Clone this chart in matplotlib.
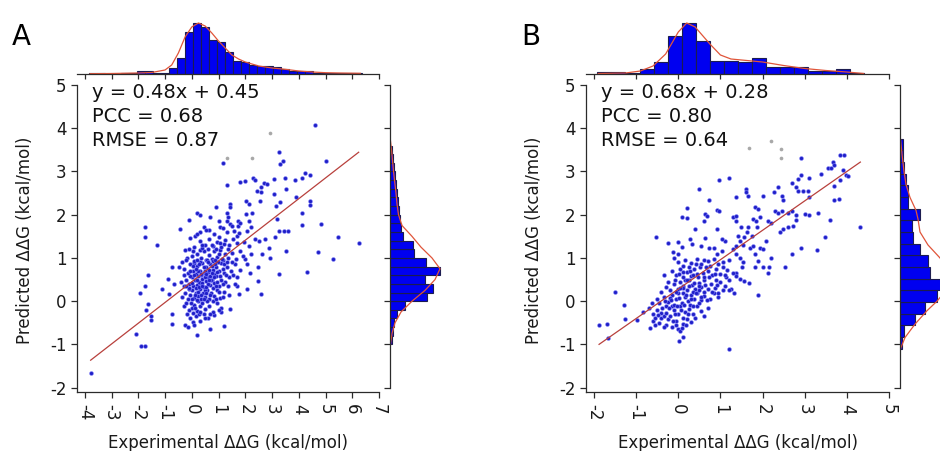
import numpy as np
import matplotlib
matplotlib.use("Agg")
import matplotlib.pyplot as plt

plt.rcParams['axes.unicode_minus'] = False
plt.rcParams['font.family'] = 'DejaVu Sans'

W, H = 940, 451

# ---------------- panel A data ----------------
a_stats = ["y = 0.48x + 0.45", "PCC = 0.68", "RMSE = 0.87"]
a_fit = (0.48, 0.45)
a_xticks = list(range(-4, 8))
a_xlim = (-4.29, 7.0)

a_points = [
    (-3.78, -1.65), (-2.1, -0.76), (-1.91, -1.03), (-1.73, -1.03), (-1.73, 1.72), (-1.76, 1.49),
    (-1.3, 1.30), (-1.63, 0.61), (-1.92, 0.19), (-1.73, 0.34), (-1.63, -0.07), (-1.71, -0.2),
    (-1.54, -0.34), (-1.52, -0.44), (-1.11, 0.28), (-0.86, 0.16), (-0.88, 0.51), (-0.73, 0.80),
    (-0.73, -0.30), (-0.73, -0.52), (-0.67, 0.39), (-0.45, 1.67), (-0.11, 1.88), (0.2, 2.05),
    (0.29, 1.99), (0.9, 2.19), (1.17, 3.2), (1.32, 2.69), (1.32, 2.05), (1.36, 1.94), (1.79, 2.76),
    (2.0, 2.79), (2.04, 2.32), (2.13, 2.25), (2.28, 2.85), (2.38, 2.8), (2.44, 2.56), (2.59, 2.63),
    (2.57, 2.52), (2.54, 2.32), (2.69, 2.73), (2.81, 2.71), (3.06, 2.83), (3.25, 3.46), (3.29, 3.17),
    (3.41, 3.24), (3.09, 2.49), (3.16, 2.21), (3.29, 2.3), (3.5, 2.86), (3.54, 2.59), (3.87, 2.8),
    (4.12, 2.85), (4.25, 2.97), (4.41, 2.93), (3.91, 2.4), (4.41, 2.31), (4.41, 2.23), (4.62, 4.08),
    (5.03, 3.25), (4.12, 2.05), (4.12, 1.77), (4.84, 1.78), (5.47, 1.49), (6.24, 1.34), (4.72, 1.13),
    (5.28, 0.97), (4.31, 0.68), (3.26, 0.64), (3.54, 1.17), (3.19, 1.9), (3.25, 1.63), (3.44, 1.63),
    (3.59, 1.63), (3.13, 1.49), (2.87, 1.24), (2.94, 1.0), (2.75, 1.44), (2.63, 1.1), (2.46, 0.78),
    (2.46, 0.47), (2.57, 0.16), (2.07, 0.29), (2.38, 1.44), (2.5, 1.4), (2.13, 1.86), (2.2, 1.71),
    (2.07, 1.63), (2.26, 2.03), (2.04, 2.02), (1.72, 1.86), (1.72, 1.75), (1.82, 1.82), (1.57, 1.63),
    (1.69, 1.51), (1.94, 1.36), (2.13, 1.28), (1.82, 1.17), (2.2, 1.09), (2.0, 0.97), (2.07, 0.86),
    (2.17, 0.66), (1.69, 0.36), (1.76, 0.16), (1.44, -0.19), (1.2, -0.57), (1.11, -0.24), (0.67, -0.65),
    (0.2, -0.78), (1.44, 2.25), (1.44, 2.17), (1.32, 1.86), (1.44, 1.78), (1.07, 1.71), (1.01, 1.86),
    (0.7, 1.94), (0.45, 1.72), (0.64, 1.64), (0.32, 1.59), (0.14, 1.51), (-0.05, 1.46), (-0.26, 1.18),
    (-0.17, 1.01), (-0.36, 0.9), (-0.49, 0.78),
    # dense centre
    (-0.25, -0.55), (-0.15, -0.6), (0.05, -0.48), (0.15, -0.35), (0.3, -0.45), (0.45, -0.3),
    (-0.05, -0.38), (0.6, -0.4), (0.1, -0.55), (0.85, -0.32),
    (-0.3, -0.1), (-0.2, -0.05), (-0.1, -0.2), (0.0, -0.15), (0.1, -0.08), (0.2, -0.22), (0.3, -0.12),
    (0.4, -0.05), (0.5, -0.18), (0.65, -0.1), (0.8, -0.25), (0.95, -0.05), (0.05, -0.28), (0.25, 0.0),
    (1.1, -0.15),
    (-0.35, 0.1), (-0.25, 0.2), (-0.15, 0.05), (-0.05, 0.15), (0.0, 0.25), (0.08, 0.08), (0.15, 0.2),
    (0.22, 0.12), (0.3, 0.28), (0.35, 0.05), (0.42, 0.18), (0.5, 0.1), (0.58, 0.25), (0.65, 0.05),
    (0.72, 0.2), (0.85, 0.12), (0.95, 0.25), (1.05, 0.08), (1.2, 0.22), (1.4, 0.15), (0.18, 0.02),
    (0.48, 0.27), (-0.1, 0.28), (0.78, 0.0),
    (-0.4, 0.45), (-0.3, 0.35), (-0.2, 0.5), (-0.1, 0.4), (0.0, 0.55), (0.05, 0.35), (0.12, 0.48),
    (0.2, 0.38), (0.25, 0.58), (0.32, 0.42), (0.38, 0.52), (0.45, 0.33), (0.52, 0.47), (0.6, 0.56),
    (0.68, 0.38), (0.75, 0.5), (0.82, 0.42), (0.9, 0.58), (1.0, 0.35), (1.1, 0.5), (1.25, 0.45),
    (1.4, 0.55), (1.6, 0.4), (0.15, 0.3), (0.55, 0.32), (0.95, 0.45), (1.7, 0.55), (-0.05, 0.58),
    (0.28, 0.45), (0.7, 0.58),
    (-0.3, 0.75), (-0.15, 0.65), (-0.05, 0.85), (0.05, 0.7), (0.15, 0.62), (0.2, 0.82), (0.3, 0.7),
    (0.4, 0.88), (0.45, 0.65), (0.55, 0.78), (0.62, 0.68), (0.7, 0.85), (0.78, 0.72), (0.85, 0.62),
    (0.92, 0.8), (1.0, 0.7), (1.1, 0.88), (1.2, 0.65), (1.3, 0.78), (1.45, 0.7), (1.6, 0.85),
    (1.8, 0.72), (0.35, 0.6), (0.98, 0.9), (0.1, 0.88), (1.15, 0.75), (0.5, 0.7),
    (-0.2, 0.95), (0.0, 1.05), (0.1, 0.92), (0.2, 1.1), (0.35, 1.0), (0.45, 1.15), (0.55, 0.95),
    (0.65, 1.08), (0.75, 0.98), (0.85, 1.15), (0.95, 1.02), (1.05, 1.18), (1.15, 0.95), (1.25, 1.1),
    (1.35, 1.0), (1.5, 1.12), (1.65, 0.98), (1.9, 1.05), (0.3, 1.18), (0.8, 0.92), (1.0, 1.1),
    (0.1, 1.25), (0.3, 1.4), (0.5, 1.3), (0.65, 1.45), (0.8, 1.28), (0.95, 1.38), (1.1, 1.25),
    (1.25, 1.42), (1.4, 1.3), (1.55, 1.45), (1.7, 1.35), (0.4, 1.22), (1.0, 1.48), (1.2, 1.32),
    (0.2, 1.55), (0.55, 1.65), (0.85, 1.55), (1.15, 1.7), (1.3, 1.6), (1.5, 1.75), (1.75, 1.58),
    (0.02, 0.42), (0.08, 0.6), (0.12, 0.15), (0.18, 0.5), (0.22, 0.7), (0.26, 0.32), (0.32, 0.9),
    (0.36, 0.15), (0.4, 0.42), (0.44, 0.78), (0.48, 0.55), (0.52, 0.2), (0.56, 0.95), (0.6, 0.4),
    (0.64, 0.72), (0.68, 0.15), (0.72, 0.48), (0.76, 0.82), (0.8, 0.3), (0.84, 0.55), (0.88, 0.95),
    (0.92, 0.35), (0.96, 0.68), (1.02, 0.22), (1.06, 0.58), (1.12, 0.98), (1.18, 0.4), (1.22, 0.85),
    (1.28, 0.6), (1.34, 1.2), (0.0, 0.05), (-0.08, 0.7), (-0.12, 0.3), (-0.18, -0.3), (-0.02, -0.05),
    (0.14, -0.15), (0.26, -0.3), (0.38, 0.35), (0.58, 0.0), (0.7, -0.3), (0.9, 0.05), (1.0, -0.2),
    (0.2, 0.95), (0.4, 1.3), (0.6, 1.2), (0.75, 1.3), (0.9, 1.2), (1.05, 1.35), (1.3, 0.9),
    (1.5, 0.9), (1.55, 0.6), (1.35, 0.35), (1.15, 0.1), (-0.22, 0.35), (-0.28, 0.6), (0.32, -0.25),
    (0.48, -0.4), (0.62, 0.9), (0.05, 1.15), (-0.1, 1.2), (0.24, 0.22), (0.34, 0.62), (0.46, 0.05),
    (0.54, 0.62), (0.66, 0.5), (0.74, 0.65), (0.86, 0.85), (0.04, 0.82), (0.16, 0.75), (0.28, 0.85),
]
a_grey = [(1.3, 3.31), (2.26, 3.31), (2.94, 3.9)]

# top marginal histogram (x) : first edge, bin width, bar heights, density curve
a_top_start, a_top_width = -3.85, 0.3
a_top_h = [0.7, 0.7, 0.5, 0.5, 0.7, 1.0, 3.5, 3.5, 1.5, 1.5, 6.5, 16.5, 42, 51, 47, 34, 32,
           22, 13, 12, 9.5, 8, 8, 7.5, 5, 3.5, 3, 3, 1.5, 1, 1, 0.8, 0.8, 0.8]
a_top_cx = [-3.8, -3.0, -2.0, -1.5, -1.0, -0.75, -0.5, -0.25, 0.0, 0.25, 0.5, 0.75, 1.0, 1.25,
            1.5, 1.75, 2.0, 2.5, 3.0, 3.5, 4.0, 4.5, 5.0, 5.5, 6.3]
a_top_ch = [0.3, 0.5, 1.0, 1.5, 4, 9, 21, 37, 47, 51, 48, 41, 33, 26, 19, 15, 12, 8, 6, 4.7,
            3, 2, 1.3, 1, 0.7]
# right marginal histogram (y)
a_right_start, a_right_width = -1.0, 0.2
a_right_w = [1.5, 2.5, 4, 7, 15, 37, 43, 35, 50, 36, 24, 23, 13, 11, 10, 9, 8, 6.5, 6, 5,
             3.5, 2.5, 1.5]
a_right_cy = [-1.0, -0.75, -0.5, -0.25, 0.0, 0.25, 0.5, 0.75, 1.0, 1.25, 1.5, 1.75, 2.0, 2.25,
              2.5, 3.0, 3.5, 3.7]
a_right_cw = [0.5, 2, 5, 11, 22, 35, 45, 50, 42, 31, 22, 12, 8.5, 7, 6, 3.5, 1.5, 0.5]

# ---------------- panel B data ----------------
b_stats = ["y = 0.68x + 0.28", "PCC = 0.80", "RMSE = 0.64"]
b_fit = (0.68, 0.28)
b_xticks = list(range(-2, 6))
b_xlim = (-2.19, 5.0)

b_points = [
    (-1.88, -0.55), (-1.68, -0.53), (-1.66, -0.86), (-1.49, 0.22), (-1.3, -0.08), (-1.26, -0.42),
    (-0.97, -0.44), (-0.83, -0.25), (-0.67, -0.61), (-0.54, 1.49), (-0.25, 1.34), (-0.33, 0.61),
    (0.02, -0.93), (0.12, -0.83), (1.21, -1.1), (1.9, 0.14), (2.53, 0.8), (2.71, 1.09), (2.92, 1.22),
    (3.29, 1.18), (3.49, 1.49), (4.32, 1.71), (3.6, 1.88), (3.32, 2.05), (3.1, 2.4), (3.38, 2.94),
    (2.92, 3.31), (3.55, 3.08), (3.63, 3.08), (3.67, 3.21), (3.69, 3.16), (3.83, 3.38), (3.93, 3.38),
    (3.91, 3.03), (3.99, 2.93), (4.03, 2.9), (3.83, 2.8), (3.69, 2.67), (3.69, 2.35), (3.82, 2.36),
    (0.96, 2.8), (1.2, 2.84), (0.48, 2.59), (0.73, 2.35), (0.21, 2.15), (0.21, 1.92), (0.08, 1.95),
    (0.4, 1.67), (0.63, 2.02), (0.69, 1.98), (0.62, 1.86), (0.91, 2.11), (0.97, 2.08), (0.91, 1.67),
    (1.3, 1.94), (1.38, 1.86), (1.36, 1.98), (1.6, 2.59), (1.6, 2.52), (1.66, 2.44), (1.37, 2.42),
    (1.82, 2.19), (1.9, 2.13), (2.0, 2.44), (2.27, 2.52), (2.37, 2.63), (2.47, 2.44), (2.49, 2.34),
    (2.71, 2.73), (2.8, 2.63), (2.9, 2.93), (2.84, 2.56), (2.96, 2.56), (3.08, 2.56), (2.84, 2.83),
    (3.1, 2.86), (2.29, 2.09), (2.37, 2.05), (2.45, 2.09), (2.61, 2.03), (2.69, 2.09), (2.79, 1.99),
    (3.0, 2.02), (3.1, 1.99), (2.73, 1.75), (2.8, 1.88), (2.41, 1.59), (2.49, 1.67), (2.61, 1.71),
    (2.13, 1.86), (2.21, 1.82), (1.78, 1.9), (1.84, 1.86), (1.94, 1.95), (1.86, 1.72), (1.66, 1.71),
    (1.49, 1.71), (1.62, 1.59), (1.74, 1.51), (1.56, 1.49), (1.42, 1.51), (1.46, 1.4), (1.54, 1.3),
    (1.7, 1.24), (1.78, 1.28), (1.94, 1.24), (2.09, 1.4), (2.01, 1.2), (1.82, 1.09), (1.9, 0.93),
    (1.82, 0.78), (2.01, 0.78), (2.13, 0.66), (2.16, 0.78), (2.21, 0.99), (1.3, 1.2), (1.38, 1.28),
    (1.37, 1.1), (1.46, 1.01), (1.54, 0.9), (1.5, 0.78), (1.38, 0.66), (1.3, 0.66), (1.38, 0.59),
    (1.46, 0.51), (1.68, 0.43), (1.56, 0.46), (1.13, 0.57), (1.21, 0.49), (1.26, 0.28), (1.33, 0.2),
    (1.05, 0.9), (1.07, 0.78), (0.91, 1.09), (1.03, 1.17), (1.11, 1.4), (1.03, 1.44), (0.73, 1.24),
    (0.85, 1.24), (0.55, 1.28), (0.63, 1.46), (0.28, 1.44), (0.32, 1.32), (0.0, 1.38), (0.08, 1.26),
    (-0.13, 1.13), (-0.1, 1.01), (0.0, 1.09),
    # dense centre
    (-0.6, -0.45), (-0.45, -0.5), (-0.3, -0.55), (-0.15, -0.6), (0.0, -0.65), (-0.05, -0.45),
    (0.1, -0.52), (0.2, -0.42), (-0.4, -0.4), (0.05, -0.68), (0.3, -0.48), (-0.25, -0.42),
    (-0.7, -0.15), (-0.6, -0.3), (-0.5, -0.2), (-0.4, -0.28), (-0.3, -0.12), (-0.2, -0.35),
    (-0.1, -0.2), (0.0, -0.3), (0.05, -0.12), (0.15, -0.25), (0.25, -0.18), (0.35, -0.3),
    (0.45, -0.12), (0.55, -0.22), (-0.55, -0.38), (-0.15, -0.1), (0.1, -0.38), (0.7, -0.15),
    (-0.35, -0.35),
    (-0.5, 0.05), (-0.35, 0.1), (-0.25, -0.02), (-0.15, 0.15), (-0.05, 0.05), (0.0, 0.18),
    (0.08, -0.05), (0.15, 0.1), (0.22, 0.0), (0.3, 0.15), (0.38, 0.05), (0.45, 0.18), (0.55, 0.02),
    (0.62, 0.12), (0.75, 0.05), (0.85, 0.18), (-0.1, -0.08), (0.12, 0.2), (0.5, -0.05), (0.95, 0.1),
    (0.28, -0.08), (-0.2, 0.08),
    (-0.3, 0.32), (-0.2, 0.25), (-0.1, 0.4), (0.0, 0.28), (0.05, 0.45), (0.12, 0.35), (0.2, 0.25),
    (0.25, 0.48), (0.32, 0.38), (0.4, 0.28), (0.48, 0.42), (0.55, 0.32), (0.62, 0.48), (0.7, 0.28),
    (0.78, 0.4), (0.88, 0.3), (1.0, 0.45), (1.1, 0.35), (0.15, 0.48), (0.35, 0.22), (0.6, 0.22),
    (-0.05, 0.22), (0.9, 0.48), (1.2, 0.25),
    (-0.05, 0.6), (0.05, 0.75), (0.12, 0.55), (0.2, 0.68), (0.3, 0.58), (0.38, 0.75), (0.45, 0.62),
    (0.52, 0.78), (0.6, 0.55), (0.7, 0.7), (0.8, 0.6), (0.9, 0.75), (1.0, 0.62), (0.25, 0.8),
    (0.65, 0.8), (-0.15, 0.7), (1.15, 0.72),
    (0.0, 0.9), (0.15, 0.95), (0.3, 0.88), (0.45, 0.98), (0.55, 0.85), (0.7, 0.92), (0.85, 0.98),
    (0.95, 0.85), (0.1, 0.82), (1.2, 0.95),
    (-0.45, -0.05), (-0.38, -0.15), (-0.32, 0.0), (-0.28, -0.28), (-0.22, -0.15), (-0.18, 0.02),
    (-0.12, -0.45), (-0.08, -0.3), (-0.02, -0.1), (0.02, 0.08), (0.06, -0.2), (0.1, 0.3),
    (0.14, -0.08), (0.18, 0.15), (0.22, -0.3), (0.26, 0.35), (0.3, 0.05), (0.34, -0.12),
    (0.38, 0.42), (0.42, 0.18), (0.46, 0.55), (0.5, 0.35), (0.54, 0.1), (0.58, 0.65), (0.64, 0.38),
    (0.68, 0.02), (0.74, 0.55), (0.8, 0.22), (0.86, 0.62), (0.92, 0.38), (-0.55, -0.55),
    (-0.48, -0.32), (-0.62, -0.05), (-0.35, -0.6), (-0.05, -0.55), (0.08, -0.62), (0.18, -0.55),
    (0.4, -0.4), (0.6, -0.35), (0.02, 0.62), (-0.08, 0.5), (0.1, 0.68), (0.28, 0.7), (0.42, 0.85),
    (0.6, 0.95), (0.75, 0.82), (1.05, 0.25), (1.1, 0.6), (0.95, 0.2), (-0.25, 0.45), (-0.4, 0.22),
    (0.2, 0.5), (0.35, 0.6), (0.48, 0.25), (0.05, 0.3),
]
b_grey = [(1.68, 3.54), (2.21, 3.71), (2.43, 3.52), (2.43, 3.31)]

b_top_start, b_top_width = -1.92, 0.3333
b_top_h = [2.3, 2.3, 1.0, 4.7, 12.3, 38, 51, 33, 13, 13, 12.3, 15.7, 6.7, 6.7, 6.7, 3.3, 3.3,
           4.7, 1.3]
b_top_cx = [-1.9, -1.25, -0.9, -0.6, -0.3, 0.0, 0.2, 0.4, 0.75, 1.0, 1.25, 1.5, 2.0, 2.5, 3.0,
            3.5, 4.0, 4.4]
b_top_ch = [0.5, 1, 3, 8, 20, 42, 51, 47, 30, 19, 15, 14, 12, 8.5, 5.5, 3.5, 2, 0.5]
b_right_start, b_right_width = -1.1, 0.27
b_right_w = [1.7, 4, 15, 25, 37, 43, 30, 28, 20, 13.3, 11.7, 20, 8.3, 8.3, 6, 4, 3, 2.5]
b_right_cy = [-1.1, -0.84, -0.53, -0.22, 0.0, 0.25, 0.5, 0.75, 1.0, 1.3, 1.6, 1.9, 2.1, 2.4,
              2.7, 3.0, 3.4, 3.75]
b_right_cw = [0.5, 5, 15, 27, 37, 46, 50, 47, 40, 28, 20, 18, 16, 10, 6, 4, 2, 0.5]

yticks = list(range(-2, 6))
ylim = (-2.093, 5.0)

BAR = '#0000f0'
BAR_EDGE = '#1c1c50'
CURVE = '#e0553a'
FIT = '#b8403c'
SPINE = '#2b2b2b'


def px_axes(fig, l, t, r, b):
    return fig.add_axes([l / W, 1 - b / H, (r - l) / W, (b - t) / H])


def panel(fig, letter, left, right, xlim, xticks, points, grey, fit, stats,
          top_start, top_width, top_h, top_cx, top_ch,
          r_start, r_width, r_w, r_cy, r_cw):
    top, bottom = 85, 391.7
    pts = np.array(points)

    # main scatter
    ax = px_axes(fig, left, top, right, bottom)
    ax.set_xlim(xlim)
    ax.set_ylim(ylim)
    g = np.array(grey)
    ax.scatter(g[:, 0], g[:, 1], s=7, color='#a8a8a8', linewidths=0, zorder=2)
    ax.scatter(pts[:, 0], pts[:, 1], s=8, color='#2020c8', edgecolors='#8c8cff',
               linewidths=0.35, zorder=3)
    xs = np.array([pts[:, 0].min(), pts[:, 0].max()])
    ax.plot(xs, fit[0] * xs + fit[1], color=FIT, lw=0.9, zorder=4)
    for s in ['top', 'right']:
        ax.spines[s].set_visible(False)
    for s in ['left', 'bottom']:
        ax.spines[s].set_color(SPINE)
        ax.spines[s].set_linewidth(0.9)
    ax.set_xticks(xticks)
    ax.set_yticks(yticks)
    ax.tick_params(direction='out', length=4.5, width=0.9, colors=SPINE,
                   labelsize=12, labelcolor='#1a1a1a')
    ax.tick_params(axis='x', labelrotation=270, pad=4)
    ax.tick_params(axis='y', pad=3)

    # top marginal histogram
    axt = px_axes(fig, left, 10, right, 74)
    edges = top_start + top_width * np.arange(len(top_h) + 1)
    axt.bar(edges[:-1], top_h, width=np.diff(edges), align='edge', color=BAR,
            edgecolor=BAR_EDGE, linewidth=0.8)
    axt.plot(top_cx, top_ch, color=CURVE, lw=0.9)
    axt.set_xlim(xlim)
    axt.set_ylim(0, 64)
    for s in ['top', 'right', 'left']:
        axt.spines[s].set_visible(False)
    axt.spines['bottom'].set_color(SPINE)
    axt.spines['bottom'].set_linewidth(0.9)
    axt.set_xticks(xticks)
    axt.set_yticks([])
    axt.tick_params(axis='x', direction='out', length=3.5, width=0.9, colors=SPINE,
                    labelbottom=False)
    axt.patch.set_alpha(0)

    # right marginal histogram
    axr = px_axes(fig, right + 11, top, right + 91, bottom)
    edges = r_start + r_width * np.arange(len(r_w) + 1)
    axr.barh(edges[:-1], r_w, height=np.diff(edges), align='edge', color=BAR,
             edgecolor=BAR_EDGE, linewidth=0.8)
    axr.plot(r_cw, r_cy, color=CURVE, lw=0.9)
    axr.set_ylim(ylim)
    axr.set_xlim(0, 80)
    for s in ['top', 'right', 'bottom']:
        axr.spines[s].set_visible(False)
    axr.spines['left'].set_color(SPINE)
    axr.spines['left'].set_linewidth(0.9)
    axr.spines['left'].set_bounds(-2, 5)
    axr.set_yticks(yticks)
    axr.set_xticks([])
    axr.tick_params(axis='y', direction='out', length=4.5, width=0.9, colors=SPINE,
                    labelleft=False)
    axr.patch.set_alpha(0)

    # stats text
    for i, line in enumerate(stats):
        fig.text((left + 15) / W, 1 - (98.5 + 23.5 * i) / H, line, fontsize=14,
                 color='#111111', va='baseline', ha='left')

    # panel letter and axis titles
    fig.text((left - 65) / W, 1 - 45 / H, letter, fontsize=20, va='baseline', ha='left')
    fig.text((left - 52) / W, 1 - 240 / H, 'Predicted ΔΔG (kcal/mol)', rotation=90,
             fontsize=12, ha='center', va='center', color='#1a1a1a')
    fig.text(((left + right) / 2) / W, 1 - 442.5 / H, 'Experimental ΔΔG (kcal/mol)',
             fontsize=12, ha='center', va='center', color='#1a1a1a')


def main():
    fig = plt.figure(figsize=(W / 100, H / 100), dpi=100)
    panel(fig, 'A', 77, 379, a_xlim, a_xticks, a_points, a_grey, a_fit, a_stats,
          a_top_start, a_top_width, a_top_h, a_top_cx, a_top_ch,
          a_right_start, a_right_width, a_right_w, a_right_cy, a_right_cw)
    panel(fig, 'B', 586, 889, b_xlim, b_xticks, b_points, b_grey, b_fit, b_stats,
          b_top_start, b_top_width, b_top_h, b_top_cx, b_top_ch,
          b_right_start, b_right_width, b_right_w, b_right_cy, b_right_cw)
    fig.savefig('out.png', dpi=100)


if __name__ == "__main__":
    main()
